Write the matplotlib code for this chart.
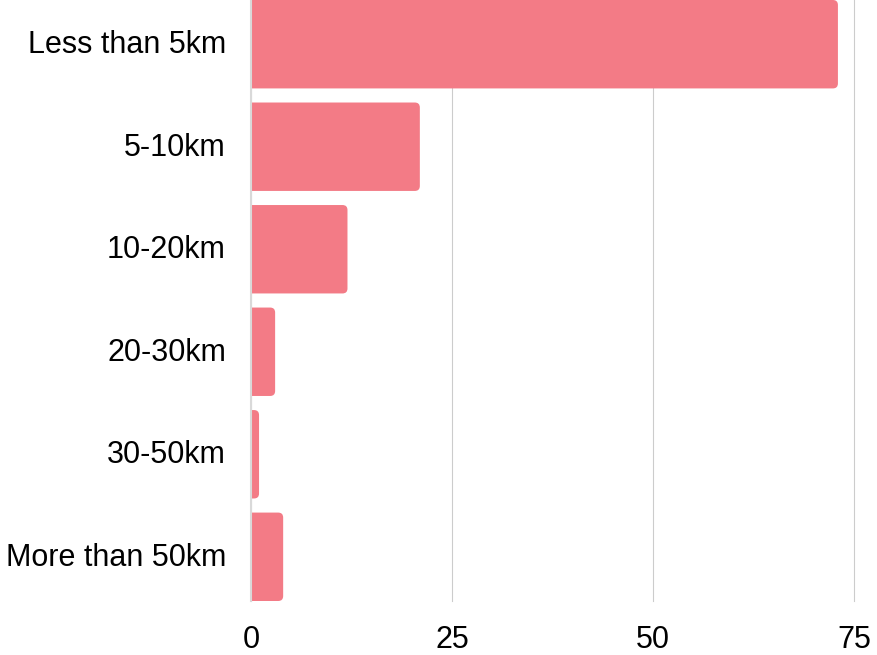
import matplotlib
matplotlib.use("Agg")
import matplotlib.pyplot as plt
from matplotlib.patches import FancyBboxPatch
from matplotlib.transforms import ScaledTranslation

categories = ["Less than 5km", "5-10km", "10-20km", "20-30km", "30-50km", "More than 50km"]
values = [73, 21, 12, 3, 1, 4]
xticks = [0, 25, 50, 75]

plt.rcParams['font.family'] = ['Liberation Sans', 'DejaVu Sans']

W, H = 878, 655
fig = plt.figure(figsize=(W / 100, H / 100), dpi=100)
ax = fig.add_axes([251 / W, 1 - 601 / H, (854 - 251) / W, 601 / H])

bar_h = 0.8625
color = "#F37B86"
ax.set_xlim(0, 75)
ax.set_ylim(len(categories) - 1 + bar_h / 2, -bar_h / 2)

# pixel scale for rounded corners
ax_w_px = (854 - 251)
ax_h_px = 601
xpx = ax_w_px / 75
ypx = ax_h_px / (len(categories) - 1 + bar_h)
r_px = 5
aspect = xpx / ypx

for i, v in enumerate(values):
    left = -2
    p = FancyBboxPatch((left, i - bar_h / 2), v - left, bar_h,
                       boxstyle=f"round,pad=0,rounding_size={r_px / xpx}",
                       mutation_aspect=aspect, facecolor=color, edgecolor="none",
                       zorder=3)
    ax.add_patch(p)

ax.set_yticks(range(len(categories)))
ax.set_yticklabels(categories)
ax.set_xticks(xticks)
ax.set_xticklabels([str(t) for t in xticks])
ax.tick_params(axis='both', length=0, labelsize=22.0, colors='black')
ax.tick_params(axis='y', pad=18)
ax.tick_params(axis='x', pad=17)

offset = ScaledTranslation(0, 2.5 / 100, fig.dpi_scale_trans)
for lab in ax.get_yticklabels():
    lab.set_transform(lab.get_transform() + offset)

for s in ["top", "right", "bottom"]:
    ax.spines[s].set_visible(False)
ax.spines["left"].set_color("#d9d9d9")
ax.spines["left"].set_linewidth(1.5)
ax.spines["left"].set_zorder(4)

ax.grid(axis='x', color="#cccccc", linewidth=0.8, zorder=0)
ax.set_axisbelow(True)
for gl in ax.get_xgridlines():
    gl.set_clip_on(False)

fig.savefig("out.png", dpi=100)
